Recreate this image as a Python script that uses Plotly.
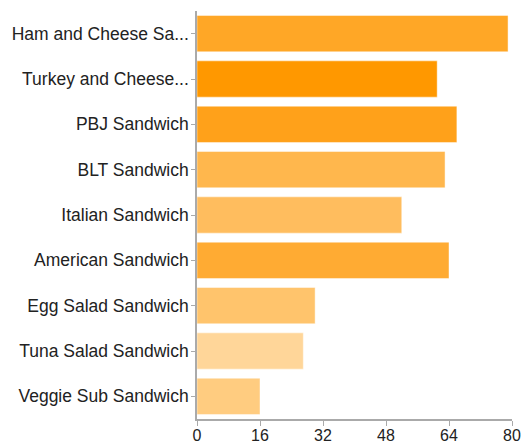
import plotly.graph_objects as go

categories = ["Ham and Cheese Sa...", "Turkey and Cheese...", "PBJ Sandwich", "BLT Sandwich",
              "Italian Sandwich", "American Sandwich", "Egg Salad Sandwich",
              "Tuna Salad Sandwich", "Veggie Sub Sandwich"]
values = [79, 61, 66, 63, 52, 64, 30, 27, 16]
bar_colors = ["#FFA726", "#FF9800", "#FFA11A", "#FFB74D", "#FFBD5E",
              "#FFAB33", "#FFC46C", "#FFD699", "#FFCC80"]
x_ticks = [0, 16, 32, 48, 64, 80]

fig = go.Figure(go.Bar(
    y=categories, x=values, orientation="h",
    marker=dict(color=bar_colors, line=dict(color="rgba(255,255,255,0.45)", width=1)),
))

fig.update_layout(
    width=524, height=446,
    margin=dict(l=197, r=12, t=11, b=27, pad=0),
    plot_bgcolor="white", paper_bgcolor="white",
    font=dict(family="Liberation Sans, Arial, sans-serif", size=17, color="#222"),
    bargap=0.2, showlegend=False,
)
fig.update_xaxes(range=[0, 80], tickvals=x_ticks, showgrid=False, zeroline=False,
                 showline=True, linecolor="#aaa", linewidth=1.5,
                 ticks="outside", ticklen=5, tickcolor="#aaa",
                 tickfont=dict(size=16), ticklabelstandoff=-4, automargin=False)
fig.update_yaxes(autorange="reversed", showgrid=False, zeroline=False,
                 showline=True, linecolor="#aaa", linewidth=1.5,
                 ticks="outside", ticklen=4, tickcolor="#aaa",
                 tickfont=dict(size=17.5), ticklabelstandoff=-1, automargin=False)

fig.write_html("out.html", config={"displayModeBar": False},
               post_script="document.body.style.margin='0';document.body.style.overflow='hidden';")
